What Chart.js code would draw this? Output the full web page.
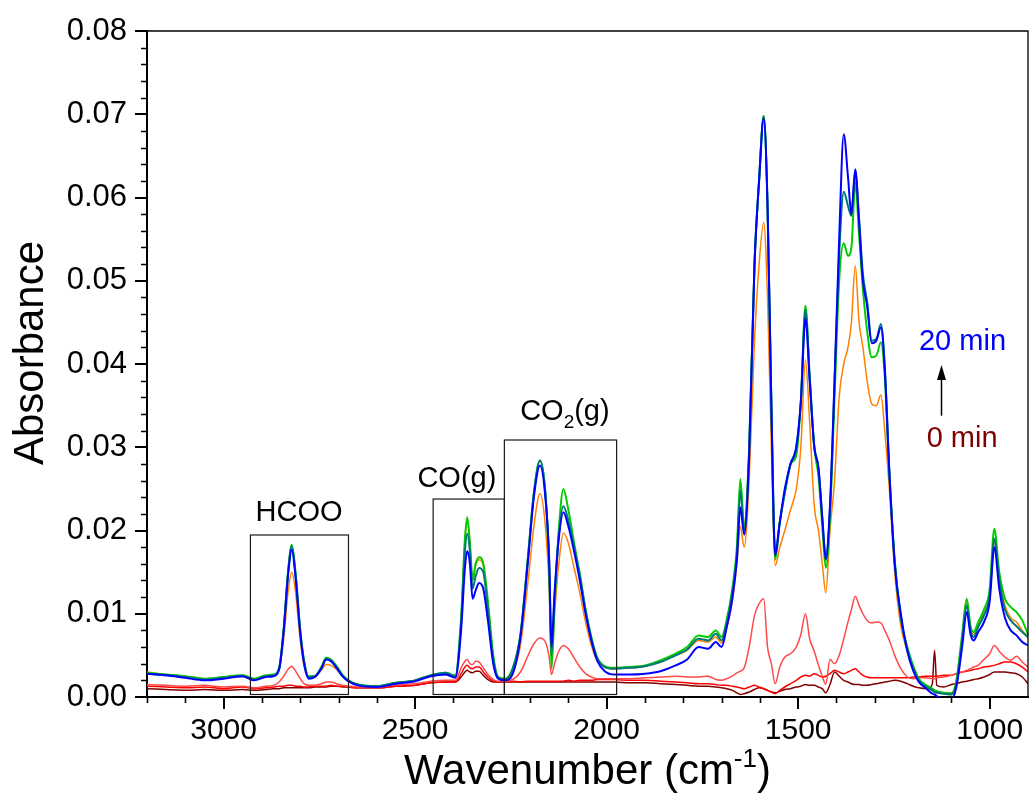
<!DOCTYPE html>
<html><head><meta charset="utf-8">
<script src="https://cdn.jsdelivr.net/npm/chart.js@4.4.1/dist/chart.umd.min.js"></script>
<style>html,body{margin:0;padding:0;background:#fff;}canvas{display:block;}</style>
</head><body>
<canvas id="c" width="1030" height="794"></canvas>
<script>
// Wavenumber grid (cm-1)
const wavenumbers = [
 3200,3150,3100,3050,3000,2950,2920,2890,2870,2855,
 2843,2832,2822,2812,2800,2790,2778,2762,2745,2732,
 2720,2705,2690,2675,2650,2600,2550,2500,2460,2420,
 2395,2380,2370,2364,2357,2350,2342,2333,2322,2310,
 2296,2283,2265,2245,2225,2205,2190,2174,2160,2150,
 2144,2136,2125,2113,2100,2085,2070,2055,2040,2025,
 2005,1980,1940,1900,1860,1820,1790,1760,1735,1715,
 1700,1687,1672,1660,1651,1641,1628,1614,1602,1590,
 1580,1570,1560,1548,1535,1520,1505,1493,1481,1470,
 1458,1447,1437,1428,1417,1405,1393,1381,1370,1361,
 1351,1341,1331,1320,1308,1296,1284,1274,1262,1248,
 1232,1215,1200,1185,1165,1150,1144,1138,1120,1100,
 1087,1072,1060,1050,1042,1030,1015,1000,988,975,
 960,945,930,915,900];

const spec20min = [ // blue
 0.0028,0.0026,0.0023,0.0020,0.0022,0.0025,0.0020,0.0024,0.0025,0.0033,
 0.0080,0.0145,0.0177,0.0143,0.0077,0.0040,0.0022,0.0024,0.0034,0.0045,
 0.0043,0.0035,0.0025,0.0019,0.0014,0.0012,0.0016,0.0019,0.0025,0.0027,
 0.0023,0.0080,0.0155,0.0175,0.0160,0.0118,0.0128,0.0137,0.0130,0.0092,
 0.0040,0.0022,0.0020,0.0028,0.0072,0.0165,0.0240,0.0278,0.0240,0.0165,
 0.0060,0.0125,0.0190,0.0222,0.0205,0.0175,0.0140,0.0100,0.0068,0.0044,
 0.0031,0.0027,0.0027,0.0028,0.0031,0.0038,0.0045,0.0060,0.0058,0.0066,
 0.0060,0.0083,0.0118,0.0165,0.0228,0.0195,0.0290,0.0520,0.0620,0.0695,
 0.0590,0.0350,0.0170,0.0210,0.0250,0.0280,0.0300,0.0355,0.0455,0.0380,
 0.0300,0.0275,0.0215,0.0165,0.0230,0.0380,0.0550,0.0676,0.0625,0.0580,
 0.0634,0.0570,0.0500,0.0470,0.0425,0.0428,0.0444,0.0395,0.0270,0.0160,
 0.0100,0.0055,0.0032,0.0018,0.0010,0.0004,0.0003,0.0001,-0.0002,-0.0003,
 0.0012,0.0060,0.0102,0.0075,0.0068,0.0078,0.0090,0.0115,0.0180,0.0130,
 0.0095,0.0080,0.0074,0.0066,0.0062];

const specTeal = [
 0.0028,0.0026,0.0024,0.0021,0.0023,0.0025,0.0021,0.0025,0.0026,0.0035,
 0.0082,0.0148,0.0181,0.0147,0.0080,0.0043,0.0024,0.0025,0.0035,0.0046,
 0.0044,0.0036,0.0026,0.0020,0.0015,0.0013,0.0017,0.0020,0.0026,0.0029,
 0.0025,0.0090,0.0175,0.0196,0.0175,0.0130,0.0145,0.0155,0.0150,0.0105,
 0.0045,0.0023,0.0021,0.0034,0.0075,0.0170,0.0245,0.0284,0.0245,0.0160,
 0.0050,0.0120,0.0195,0.0229,0.0212,0.0180,0.0145,0.0104,0.0070,0.0047,
 0.0036,0.0034,0.0035,0.0037,0.0042,0.0050,0.0057,0.0070,0.0068,0.0076,
 0.0068,0.0088,0.0125,0.0172,0.0248,0.0200,0.0295,0.0520,0.0622,0.0698,
 0.0592,0.0352,0.0175,0.0210,0.0245,0.0280,0.0300,0.0355,0.0465,0.0385,
 0.0302,0.0275,0.0215,0.0170,0.0225,0.0380,0.0530,0.0607,0.0590,0.0578,
 0.0632,0.0575,0.0508,0.0475,0.0428,0.0430,0.0448,0.0398,0.0272,0.0162,
 0.0095,0.0057,0.0035,0.0020,0.0012,0.0008,0.0006,0.0005,0.0004,0.0003,
 0.0016,0.0068,0.0110,0.0080,0.0072,0.0084,0.0098,0.0122,0.0190,0.0140,
 0.0105,0.0092,0.0085,0.0078,0.0072];

const specGreen = [
 0.0029,0.0027,0.0025,0.0022,0.0024,0.0026,0.0022,0.0026,0.0027,0.0035,
 0.0082,0.0150,0.0183,0.0148,0.0080,0.0044,0.0025,0.0025,0.0036,0.0047,
 0.0045,0.0037,0.0027,0.0020,0.0015,0.0013,0.0017,0.0020,0.0026,0.0029,
 0.0026,0.0095,0.0190,0.0216,0.0185,0.0140,0.0160,0.0168,0.0160,0.0115,
 0.0050,0.0024,0.0022,0.0035,0.0075,0.0170,0.0245,0.0284,0.0245,0.0150,
 0.0034,0.0110,0.0200,0.0250,0.0225,0.0185,0.0148,0.0105,0.0072,0.0048,
 0.0037,0.0035,0.0036,0.0038,0.0044,0.0052,0.0060,0.0074,0.0072,0.0080,
 0.0072,0.0092,0.0130,0.0180,0.0262,0.0205,0.0300,0.0520,0.0620,0.0698,
 0.0590,0.0350,0.0165,0.0210,0.0245,0.0280,0.0290,0.0355,0.0470,0.0385,
 0.0300,0.0265,0.0205,0.0155,0.0215,0.0360,0.0500,0.0545,0.0530,0.0540,
 0.0618,0.0555,0.0490,0.0440,0.0408,0.0410,0.0426,0.0385,0.0270,0.0165,
 0.0095,0.0060,0.0038,0.0022,0.0014,0.0010,0.0008,0.0007,0.0005,0.0004,
 0.0020,0.0075,0.0118,0.0085,0.0078,0.0090,0.0105,0.0130,0.0202,0.0150,
 0.0118,0.0108,0.0102,0.0092,0.0075];

const specOrange = [
 0.0030,0.0027,0.0025,0.0022,0.0024,0.0026,0.0022,0.0025,0.0026,0.0033,
 0.0070,0.0125,0.0150,0.0125,0.0068,0.0038,0.0024,0.0024,0.0032,0.0039,
 0.0038,0.0033,0.0025,0.0020,0.0015,0.0013,0.0017,0.0020,0.0025,0.0027,
 0.0024,0.0092,0.0188,0.0212,0.0185,0.0140,0.0158,0.0165,0.0158,0.0112,
 0.0048,0.0023,0.0021,0.0030,0.0062,0.0140,0.0205,0.0244,0.0205,0.0130,
 0.0045,0.0100,0.0160,0.0197,0.0185,0.0155,0.0125,0.0090,0.0062,0.0044,
 0.0036,0.0034,0.0035,0.0037,0.0042,0.0050,0.0056,0.0068,0.0066,0.0072,
 0.0065,0.0082,0.0115,0.0160,0.0205,0.0180,0.0260,0.0428,0.0520,0.0570,
 0.0480,0.0300,0.0158,0.0180,0.0200,0.0225,0.0250,0.0300,0.0405,0.0330,
 0.0230,0.0200,0.0160,0.0125,0.0200,0.0260,0.0360,0.0400,0.0420,0.0450,
 0.0518,0.0450,0.0420,0.0380,0.0352,0.0350,0.0363,0.0320,0.0250,0.0150,
 0.0085,0.0055,0.0034,0.0020,0.0013,0.0009,0.0008,0.0006,0.0005,0.0005,
 0.0018,0.0070,0.0112,0.0080,0.0075,0.0088,0.0100,0.0122,0.0185,0.0145,
 0.0110,0.0095,0.0090,0.0080,0.0072];

const specCoral = [
 0.0015,0.0014,0.0013,0.0014,0.0012,0.0013,0.0011,0.0013,0.0014,0.0018,
 0.0025,0.0033,0.0037,0.0031,0.0022,0.0016,0.0014,0.0014,0.0016,0.0018,
 0.0018,0.0016,0.0014,0.0013,0.0012,0.0012,0.0015,0.0016,0.0019,0.0020,
 0.0020,0.0035,0.0043,0.0045,0.0040,0.0039,0.0043,0.0042,0.0035,0.0027,
 0.0021,0.0019,0.0019,0.0021,0.0030,0.0050,0.0064,0.0071,0.0066,0.0048,
 0.0027,0.0040,0.0055,0.0062,0.0058,0.0047,0.0036,0.0028,0.0024,0.0022,
 0.0022,0.0022,0.0022,0.0023,0.0024,0.0025,0.0024,0.0024,0.0025,0.0021,
 0.0020,0.0022,0.0025,0.0029,0.0031,0.0035,0.0060,0.0098,0.0112,0.0118,
 0.0060,0.0040,0.0016,0.0036,0.0048,0.0052,0.0060,0.0075,0.0100,0.0070,
 0.0055,0.0038,0.0025,0.0015,0.0045,0.0040,0.0050,0.0070,0.0090,0.0105,
 0.0121,0.0110,0.0100,0.0092,0.0089,0.0090,0.0089,0.0080,0.0068,0.0050,
 0.0034,0.0024,0.0022,0.0023,0.0023,0.0022,0.0022,0.0023,0.0024,0.0026,
 0.0028,0.0030,0.0032,0.0034,0.0036,0.0038,0.0045,0.0052,0.0062,0.0055,
 0.0048,0.0044,0.0049,0.0042,0.0036];

const specRed = [
 0.0013,0.0012,0.0011,0.0012,0.0010,0.0012,0.0010,0.0011,0.0012,0.0013,
 0.0013,0.0014,0.0014,0.0013,0.0013,0.0012,0.0012,0.0013,0.0013,0.0013,
 0.0014,0.0013,0.0013,0.0012,0.0011,0.0011,0.0013,0.0014,0.0017,0.0018,
 0.0018,0.0028,0.0036,0.0038,0.0035,0.0034,0.0036,0.0036,0.0030,0.0024,
 0.0019,0.0018,0.0018,0.0019,0.0018,0.0019,0.0019,0.0019,0.0019,0.0019,
 0.0019,0.0019,0.0019,0.0019,0.0020,0.0019,0.0020,0.0020,0.0020,0.0021,
 0.0021,0.0021,0.0020,0.0020,0.0019,0.0018,0.0017,0.0016,0.0016,0.0015,
 0.0014,0.0014,0.0013,0.0012,0.0011,0.0010,0.0012,0.0014,0.0012,0.0010,
 0.0008,0.0006,0.0004,0.0008,0.0012,0.0016,0.0020,0.0024,0.0026,0.0025,
 0.0028,0.0026,0.0024,0.0025,0.0028,0.0032,0.0030,0.0028,0.0030,0.0032,
 0.0034,0.0030,0.0026,0.0024,0.0023,0.0023,0.0023,0.0023,0.0023,0.0023,
 0.0023,0.0023,0.0024,0.0024,0.0025,0.0025,0.0025,0.0025,0.0026,0.0026,
 0.0028,0.0030,0.0031,0.0032,0.0033,0.0034,0.0036,0.0037,0.0038,0.0040,
 0.0042,0.0042,0.0040,0.0036,0.0030];

const spec0min = [ // dark red
 0.0010,0.0009,0.0008,0.0009,0.0008,0.0009,0.0008,0.0009,0.0010,0.0010,
 0.0011,0.0011,0.0011,0.0011,0.0011,0.0011,0.0011,0.0012,0.0012,0.0012,
 0.0013,0.0013,0.0012,0.0012,0.0011,0.0011,0.0013,0.0014,0.0017,0.0018,
 0.0018,0.0024,0.0030,0.0032,0.0030,0.0029,0.0031,0.0031,0.0026,0.0021,
 0.0018,0.0018,0.0018,0.0018,0.0018,0.0018,0.0018,0.0018,0.0018,0.0018,
 0.0018,0.0018,0.0018,0.0018,0.0018,0.0018,0.0018,0.0018,0.0018,0.0018,
 0.0018,0.0018,0.0017,0.0017,0.0016,0.0015,0.0014,0.0013,0.0013,0.0012,
 0.0011,0.0010,0.0008,0.0005,0.0003,0.0004,0.0006,0.0009,0.0011,0.0010,
 0.0008,0.0006,0.0005,0.0007,0.0009,0.0010,0.0012,0.0013,0.0015,0.0014,
 0.0014,0.0012,0.0010,0.0005,0.0015,0.0030,0.0025,0.0020,0.0018,0.0016,
 0.0015,0.0015,0.0014,0.0014,0.0015,0.0016,0.0017,0.0018,0.0019,0.0020,
 0.0019,0.0016,0.0013,0.0011,0.0010,0.0015,0.0056,0.0014,0.0012,0.0015,
 0.0016,0.0018,0.0019,0.0020,0.0021,0.0022,0.0024,0.0027,0.0030,0.0030,
 0.0030,0.0029,0.0028,0.0024,0.0016];

const xTickValues = [3000, 2500, 2000, 1500, 1000];
const yTickLabels = ['0.00','0.01','0.02','0.03','0.04','0.05','0.06','0.07','0.08'];

// annotation boxes (data units)
const regionBoxes = [
  {label:'HCOO', from:2930, to:2674, top:0.01946},
  {label:'CO(g)', from:2453, to:2267, top:0.02378},
  {label:'CO2(g)', from:2267, to:1974, top:0.03087}
];

const FONT = '"Liberation Sans", Arial, Helvetica, sans-serif';
Chart.defaults.font.family = FONT;

function pts(arr){ return wavenumbers.map((w,i)=>({x:w, y:arr[i]})); }

const overlay = {
  id:'overlay',
  afterDraw(chart){
    const {ctx, chartArea:a, scales:{x, y}} = chart;
    ctx.save();
    // frame top/right
    ctx.strokeStyle = '#000'; ctx.lineWidth = 1.3;
    ctx.beginPath();
    ctx.moveTo(a.left, a.top); ctx.lineTo(a.right, a.top); ctx.lineTo(a.right, a.bottom);
    ctx.stroke();
    // minor ticks
    ctx.lineWidth = 1.6;
    ctx.beginPath();
    for (let k=1;k<40;k++){ if (k%5===0) continue;
      const py = Math.round(y.getPixelForValue(k*0.002))+0.5;
      ctx.moveTo(a.left-6, py); ctx.lineTo(a.left, py); }
    for (let v=1000; v<=3200; v+=100){ if (v%500===0) continue;
      const px = Math.round(x.getPixelForValue(v))+0.5;
      ctx.moveTo(px, a.bottom); ctx.lineTo(px, a.bottom+6); }
    ctx.stroke();
    // boxes
    ctx.strokeStyle = '#1a1a1a'; ctx.lineWidth = 1.2;
    regionBoxes.forEach(b=>{
      const x1=x.getPixelForValue(b.from), x2=x.getPixelForValue(b.to);
      const y1=y.getPixelForValue(b.top), y2=y.getPixelForValue(0.0003);
      ctx.strokeRect(x1, y1, x2-x1, y2-y1);
    });
    // labels
    ctx.fillStyle = '#000'; ctx.textBaseline = 'alphabetic';
    ctx.font = '29px '+FONT; ctx.textAlign = 'center';
    ctx.fillText('HCOO', x.getPixelForValue(2803), y.getPixelForValue(0.02114));
    ctx.fillText('CO(g)', x.getPixelForValue(2391), y.getPixelForValue(0.02523));
    // CO2(g) with subscript
    {
      const cx = x.getPixelForValue(2109), by = y.getPixelForValue(0.03327);
      ctx.font = '29px '+FONT; const w1 = ctx.measureText('CO').width, w3 = ctx.measureText('(g)').width;
      ctx.font = '19px '+FONT; const w2 = ctx.measureText('2').width;
      let sx = cx - (w1+w2+w3)/2; ctx.textAlign='left';
      ctx.font = '29px '+FONT; ctx.fillText('CO', sx, by);
      ctx.font = '19px '+FONT; ctx.fillText('2', sx+w1, by+8);
      ctx.font = '29px '+FONT; ctx.fillText('(g)', sx+w1+w2, by);
    }
    ctx.textAlign='center';
    ctx.fillStyle = '#0000FF'; ctx.fillText('20 min', x.getPixelForValue(1071), y.getPixelForValue(0.04168));
    ctx.fillStyle = '#800000'; ctx.fillText('0 min', x.getPixelForValue(1072), y.getPixelForValue(0.03003));
    // arrow
    const ax = Math.round(x.getPixelForValue(1128))+0.5, ay0 = y.getPixelForValue(0.03379), ay1 = y.getPixelForValue(0.03988);
    ctx.strokeStyle='#000'; ctx.fillStyle='#000'; ctx.lineWidth=1.5;
    ctx.beginPath(); ctx.moveTo(ax, ay0); ctx.lineTo(ax, ay1+12); ctx.stroke();
    ctx.beginPath(); ctx.moveTo(ax, ay1); ctx.lineTo(ax-4.5, ay1+15); ctx.lineTo(ax+4.5, ay1+15); ctx.closePath(); ctx.fill();
    // axis titles
    ctx.fillStyle = '#000';
    ctx.font = '42px '+FONT; ctx.textAlign='center'; ctx.textBaseline='middle';
    ctx.save(); ctx.translate(31, 353); ctx.rotate(-Math.PI/2); ctx.fillText('Absorbance', 0, 0); ctx.restore();
    ctx.textBaseline='alphabetic'; ctx.textAlign='left';
    const t1='Wavenumber (cm', t2='-1', t3=')';
    ctx.font='42px '+FONT; const m1=ctx.measureText(t1).width, m3=ctx.measureText(t3).width;
    ctx.font='26px '+FONT; const m2=ctx.measureText(t2).width;
    const cxT=(a.left+a.right)/2; let sx=cxT-(m1+m2+m3)/2; const by=784;
    ctx.font='42px '+FONT; ctx.fillText(t1, sx, by);
    ctx.font='26px '+FONT; ctx.fillText(t2, sx+m1, by-17);
    ctx.font='42px '+FONT; ctx.fillText(t3, sx+m1+m2, by);
    ctx.restore();
  }
};

new Chart(document.getElementById('c'), {
  type:'line',
  data:{ datasets:[
    {label:'20 min', data:pts(spec20min), borderColor:'#0000FF', borderWidth:2},
    {label:'teal', data:pts(specTeal), borderColor:'#007878', borderWidth:2},
    {label:'green', data:pts(specGreen), borderColor:'#00CC00', borderWidth:2},
    {label:'orange', data:pts(specOrange), borderColor:'#FF8000', borderWidth:1.5},
    {label:'coral', data:pts(specCoral), borderColor:'#FF4A4A', borderWidth:1.5},
    {label:'red', data:pts(specRed), borderColor:'#FF0000', borderWidth:1.5},
    {label:'0 min', data:pts(spec0min), borderColor:'#800000', borderWidth:1.5}
  ]},
  options:{
    responsive:false, animation:false, devicePixelRatio:1,
    layout:{padding:{top:31, right:2, left:0, bottom:0}},
    plugins:{legend:{display:false}, tooltip:{enabled:false}},
    elements:{point:{radius:0}, line:{cubicInterpolationMode:'monotone', fill:false}},
    scales:{
      x:{type:'linear', reverse:true, min:900, max:3200,
        afterBuildTicks: s => { s.ticks = xTickValues.map(v=>({value:v})); },
        ticks:{autoSkip:false, maxRotation:0, color:'#000', padding:4, font:{size:30}, callback:v=>String(v)},
        grid:{display:true, drawOnChartArea:false, drawTicks:true, tickLength:12, tickWidth:2, tickColor:'#000', lineWidth:2, color:'#000'},
        border:{display:true, color:'#000', width:2},
        afterFit: s => { s.height = 97; }
      },
      y:{type:'linear', min:0, max:0.08,
        afterBuildTicks: s => { s.ticks = yTickLabels.map(t=>({value:parseFloat(t)})); },
        ticks:{autoSkip:false, color:'#000', padding:8, font:{size:31}, callback:(v,i)=>yTickLabels[i]},
        grid:{display:true, drawOnChartArea:false, drawTicks:true, tickLength:12, tickWidth:2, tickColor:'#000', lineWidth:2, color:'#000'},
        border:{display:true, color:'#000', width:2},
        afterFit: s => { s.width = 147; }
      }
    }
  },
  plugins:[overlay]
});
</script>
</body></html>
